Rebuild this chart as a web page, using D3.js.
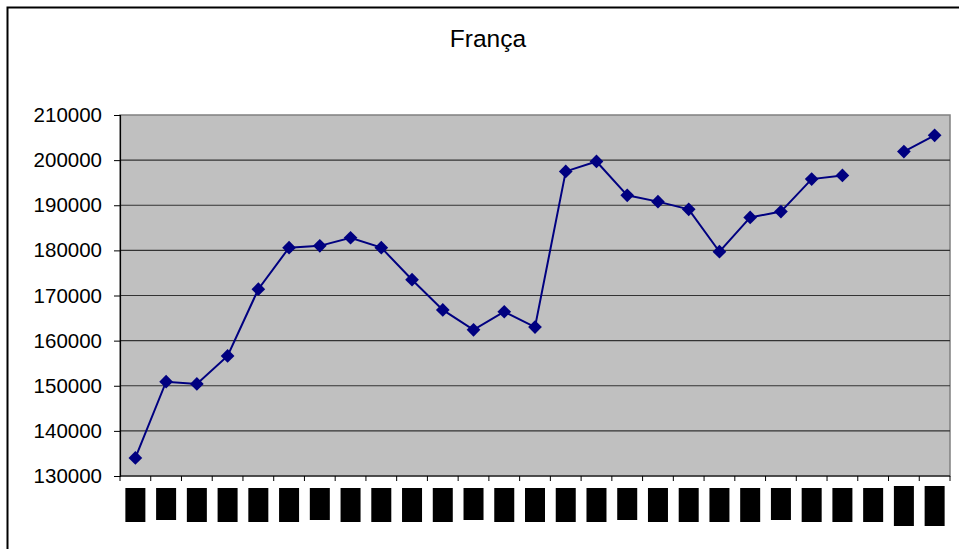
<!DOCTYPE html>
<html>
<head>
<meta charset="utf-8">
<script src="https://cdn.jsdelivr.net/npm/d3@7.9.0/dist/d3.min.js"></script>
<style>
  body { margin: 0; background: #fff; }
  svg { display: block; font-family: "Liberation Sans", Arial, sans-serif; }
</style>
</head>
<body>
<svg id="chart" width="959" height="549"></svg>
<script>
// x labels are blacked out in the source, one block per category
const categories = d3.range(1980, 2007).map(String);
const values = [
  134000, 150900, 150400, 156600, 171400, 180600, 181000, 182800, 180600,
  173500, 166800, 162400, 166400, 163000, 197500, 199700, 192200, 190800,
  189100, 179700, 187300, 188600, 195800, 196600, null, 201900, 205500,
];
const yTicks = [130000, 140000, 150000, 160000, 170000, 180000, 190000, 200000, 210000];
const title = "França";

const svg = d3.select("#chart");
const plot = { left: 120, top: 115, right: 950, bottom: 476 };

// outer chart frame
svg.append("rect")
  .attr("x", 7.5).attr("y", 7.5)
  .attr("width", 980).attr("height", 600)
  .attr("fill", "#fff").attr("stroke", "#000").attr("stroke-width", 2);

svg.append("text")
  .attr("x", 488).attr("y", 47)
  .attr("text-anchor", "middle")
  .attr("font-size", 24.5)
  .text(title);

const x = d3.scaleBand().domain(categories).range([plot.left, plot.right]);
const y = d3.scaleLinear().domain([130000, 210000]).range([plot.bottom, plot.top]);

svg.append("rect")
  .attr("x", plot.left).attr("y", plot.top)
  .attr("width", plot.right - plot.left).attr("height", plot.bottom - plot.top)
  .attr("fill", "#c0c0c0").attr("stroke", "#808080").attr("stroke-width", 1.5);

// gridlines
svg.append("g")
  .selectAll("line")
  .data(yTicks.slice(1, -1))
  .join("line")
  .attr("x1", plot.left).attr("x2", plot.right)
  .attr("y1", (d) => y(d)).attr("y2", (d) => y(d))
  .attr("stroke", "#333").attr("stroke-width", 1.2);

// y axis
const yAxis = svg.append("g")
  .attr("transform", `translate(${plot.left},0)`)
  .call(d3.axisLeft(y).tickValues(yTicks).tickFormat(d3.format("d")).tickSize(6).tickPadding(12));
yAxis.select(".domain").attr("stroke", "#000").attr("stroke-width", 1.2);
yAxis.selectAll(".tick line").attr("stroke", "#000");
yAxis.selectAll("text").attr("font-size", 20.5).attr("fill", "#000")
  .attr("font-family", "Liberation Sans, Arial, sans-serif");

// x axis with ticks at category boundaries
const xAxis = svg.append("g").attr("transform", `translate(0,${plot.bottom})`);
xAxis.append("line")
  .attr("x1", plot.left).attr("x2", plot.right)
  .attr("stroke", "#000").attr("stroke-width", 1.2);
xAxis.selectAll("line.tick")
  .data(categories.concat("end"))
  .join("line")
  .attr("class", "tick")
  .attr("x1", (d, i) => plot.left + i * x.step())
  .attr("x2", (d, i) => plot.left + i * x.step())
  .attr("y1", 0).attr("y2", 5)
  .attr("stroke", "#000");

// blacked-out category labels
const labels = xAxis.selectAll("g.lab")
  .data(categories)
  .join("g")
  .attr("class", "lab")
  .attr("transform", (d) => `translate(${x(d) + x.bandwidth() / 2},0)`);
labels.append("rect")
  .attr("x", -10)
  .attr("y", (d, i) => (i >= 25 ? 10 : 12))
  .attr("width", 20)
  .attr("height", (d, i) => (i >= 25 ? 40 : i % 5 === 1 ? 32 : 34))
  .attr("fill", "#000");
labels.append("text")
  .attr("transform", "translate(4,29) rotate(-90)")
  .attr("text-anchor", "middle")
  .attr("font-size", 11)
  .attr("fill", "#000")
  .text((d) => d);

// series
const pts = categories.map((c, i) => ({ c, v: values[i] }));
const line = d3.line()
  .defined((d) => d.v != null)
  .x((d) => x(d.c) + x.bandwidth() / 2)
  .y((d) => y(d.v));

svg.append("path")
  .datum(pts)
  .attr("d", line)
  .attr("fill", "none")
  .attr("stroke", "#000080")
  .attr("stroke-width", 2);

svg.append("g")
  .selectAll("path")
  .data(pts.filter((d) => d.v != null))
  .join("path")
  .attr("d", d3.symbol(d3.symbolDiamond2, 120))
  .attr("transform", (d) => `translate(${x(d.c) + x.bandwidth() / 2},${y(d.v)})`)
  .attr("fill", "#000080");
</script>
</body>
</html>
